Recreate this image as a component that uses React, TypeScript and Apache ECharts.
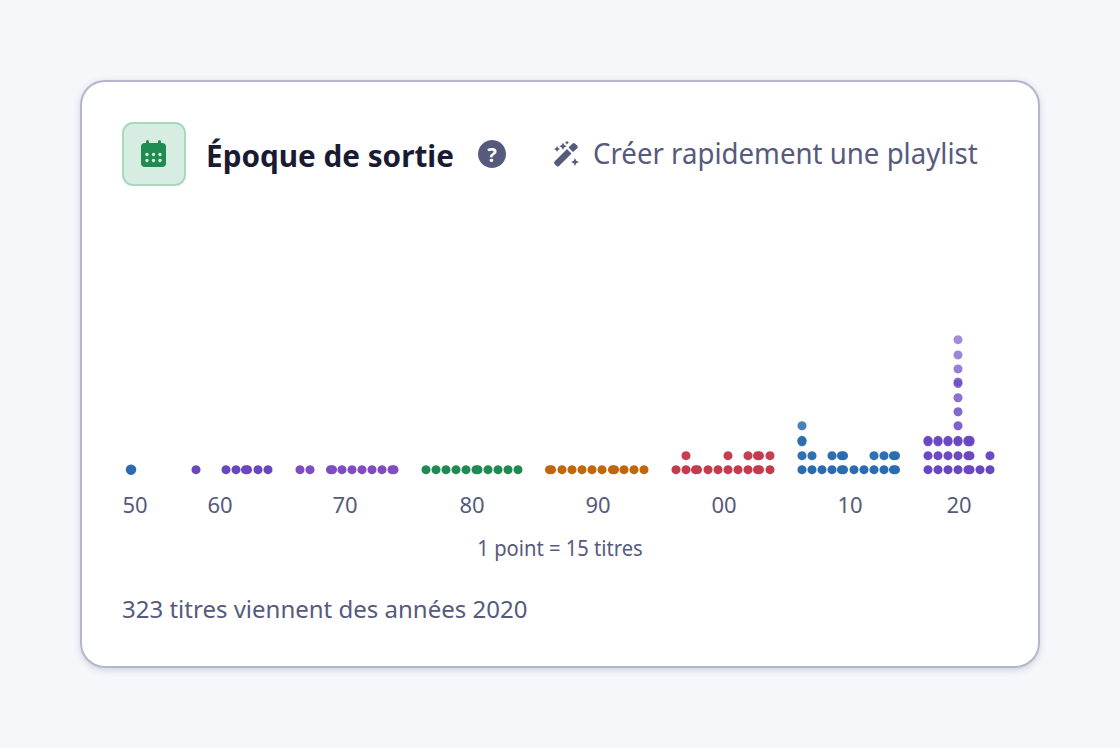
import { useEffect, useRef } from 'react'
import * as echarts from 'echarts'

// x is a position along the strip (one unit = one dot step), y a stack level
const tickSlots = [1.5, 10, 22.5, 35.2, 47.8, 60.4, 73, 83.9]
const tickLabels = ['50', '60', '70', '80', '90', '00', '10', '20']

const stackLevels = [0, 1, 1.99, 2.1, 3.14, 4.14, 5.14, 6.15, 6.27, 7.2, 8.2, 9.29]
const levelOpacity = [1, 0.98, 0.92, 0.92, 0.86, 0.82, 0.78, 0.74, 0.74, 0.7, 0.66, 0.62]

const rows50 = [[1.1]]
const rows60 = [[7.6, 10.6, 11.6, 12.55, 12.75, 13.8, 14.8]]
const rows70 = [[18, 19, 21.05, 21.25, 22.2, 23.2, 24.2, 25.2, 26.2, 27.2, 27.4]]
const rows80 = [[30.6, 31.6, 32.6, 33.6, 34.6, 35.6, 35.8, 36.8, 37.8, 38.8, 39.8]]
const rows90 = [[42.95, 43.15, 44.2, 45.2, 46.2, 47.2, 48.2, 49.25, 49.45, 50.4, 51.4, 52.4]]
const rows00 = [
  [55.6, 56.6, 57.55, 57.75, 58.8, 59.8, 60.8, 61.8, 62.8, 63.75, 63.95, 65],
  [56.6, 60.8, 62.8, 63.75, 63.95, 65],
]
const rows10 = [
  [68.2, 69.2, 70.2, 71.2, 72.15, 72.35, 73.4, 74.4, 75.4, 76.4, 77.35, 77.55],
  [68.2, 69.2, 71.2, 72.15, 72.35, 75.4, 76.4, 77.35, 77.55],
  [68.2],
  [68.2],
  [68.2],
]
const rows20 = [
  [80.8, 81.8, 82.8, 83.8, 84.8, 85, 86, 87],
  [80.8, 81.8, 82.8, 83.8, 84.8, 85, 87],
  [80.8, 81.8, 82.8, 83.8, 84.8, 85],
  [80.8, 81.8, 82.8, 83.8, 84.8, 85],
  [83.8],
  [83.8],
  [83.8],
  [83.8],
  [83.8],
  [83.8],
  [83.8],
  [83.8],
]

const decades = [
  { name: '50', rows: rows50, color: '#2b6cb0', size: 10.5 },
  { name: '60', rows: rows60, color: '#6b46c1', size: 9 },
  { name: '70', rows: rows70, color: '#7f4cc2', size: 9 },
  { name: '80', rows: rows80, color: '#1f8a52', size: 9 },
  { name: '90', rows: rows90, color: '#c0670c', size: 9 },
  { name: '00', rows: rows00, color: '#c53a4f', size: 9 },
  { name: '10', rows: rows10, color: '#2b6cb0', size: 9 },
  { name: '20', rows: rows20, color: '#6b46c1', size: 9 },
]

const FONT = '"Noto Sans", sans-serif'
const INK = '#565a7c'

echarts.graphic.registerShape(
  'wandIcon',
  echarts.graphic.extendPath(
    'M1.5 19.5 L14 7 L18.5 11.5 L6 24 Q4.8 25 3.6 24 L1.5 22 Q0.5 20.8 1.5 19.5 Z M15.5 5.5 L19.5 1.5 Q20.8 0.5 22 1.5 L24.3 3.8 Q25.4 5 24.3 6.2 L20 10 Z M10 0.5 L11.2 3 L13.7 4.2 L11.2 5.4 L10 7.9 L8.8 5.4 L6.3 4.2 L8.8 3 Z M4 4 L5 6 L7 7 L5 8 L4 10 L3 8 L1 7 L3 6 Z M14 -1.4 L14.7 0 L16.1 0.7 L14.7 1.4 L14 2.8 L13.3 1.4 L11.9 0.7 L13.3 0 Z M22 16 L23.2 18.8 L26 20 L23.2 21.2 L22 24 L20.8 21.2 L18 20 L20.8 18.8 Z',
    {}
  ) as any
)

function text(content: string, x: number, y: number, fontSize: number, fill: string, extra: any = {}, scaleX = 1) {
  return {
    type: 'text',
    x,
    y,
    scaleX,
    style: { text: content, fontSize, fill, fontFamily: FONT, textVerticalAlign: 'middle', ...extra },
  }
}

function calendarIcon() {
  const dots: any[] = []
  for (const cx of [147, 153.5, 160]) {
    for (const cy of [154.5, 160.5]) {
      dots.push({ type: 'circle', shape: { cx, cy, r: 1.7 }, style: { fill: '#d8ede1' } })
    }
  }
  return [
    { type: 'rect', shape: { x: 141, y: 143, width: 25, height: 24, r: 4 }, style: { fill: '#1f8a52' } },
    { type: 'rect', shape: { x: 146, y: 140, width: 3, height: 6, r: 1.5 }, style: { fill: '#1f8a52' } },
    { type: 'rect', shape: { x: 158, y: 140, width: 3, height: 6, r: 1.5 }, style: { fill: '#1f8a52' } },
    ...dots,
  ]
}

export default function App() {
  const chartRef = useRef<HTMLDivElement>(null)

  useEffect(() => {
    if (!chartRef.current) return

    const chart = echarts.init(chartRef.current, undefined, { renderer: 'svg' })

    const series = decades.map((decade) => ({
      name: decade.name,
      type: 'scatter',
      symbolSize: decade.size,
      clip: false,
      itemStyle: { color: decade.color },
      data: decade.rows.flatMap((row, i) =>
        row.map((slot) => ({
          value: [slot, stackLevels[i]],
          itemStyle: { opacity: levelOpacity[i] },
        }))
      ),
    }))

    const option = {
      animation: false,
      backgroundColor: '#f5f7fb',
      grid: { left: 120, top: 329.7, width: 900, height: 140 },
      xAxis: {
        type: 'value',
        min: 0,
        max: 90,
        splitLine: { show: false },
        axisLine: { show: false },
        axisTick: { show: false },
        axisLabel: {
          customValues: tickSlots,
          margin: 23,
          color: INK,
          fontSize: 22,
          fontFamily: FONT,
          formatter: (value: number) => tickLabels[tickSlots.indexOf(value)] ?? '',
        },
      },
      yAxis: { type: 'value', min: 0, max: 10, show: false },
      graphic: {
        elements: [
          {
            type: 'rect',
            shape: { x: 81, y: 81, width: 958, height: 586, r: 24 },
            style: {
              fill: '#ffffff',
              stroke: '#b3b6cc',
              lineWidth: 2,
              shadowBlur: 6,
              shadowOffsetY: 2,
              shadowColor: 'rgba(86,90,124,0.25)',
            },
          },
          {
            type: 'rect',
            shape: { x: 123, y: 123, width: 62, height: 62, r: 10 },
            style: { fill: '#d8ede1', stroke: '#a9d8bd', lineWidth: 2 },
          },
          ...calendarIcon(),
          text('Époque de sortie', 206, 155, 30, '#1a1b33', { fontWeight: 700 }, 0.99),
          { type: 'circle', shape: { cx: 492, cy: 154, r: 14 }, style: { fill: INK } },
          text('?', 492, 154, 20, '#ffffff', { fontWeight: 700, textAlign: 'center' }),
          { type: 'wandIcon', x: 553, y: 142, style: { fill: INK } },
          text('Créer rapidement une playlist', 593, 153, 29, INK, {}, 0.953),
          text('1 point = 15 titres', 560, 548, 21, INK, { textAlign: 'center' }, 0.96),
          text('323 titres viennent des années 2020', 122, 608, 24, INK),
        ],
      },
      series,
    }

    chart.setOption(option as any)

    return () => {
      chart.dispose()
    }
  }, [])

  return <div ref={chartRef} style={{ position: 'fixed', left: 0, top: 0, width: 1120, height: 748 }} />
}
